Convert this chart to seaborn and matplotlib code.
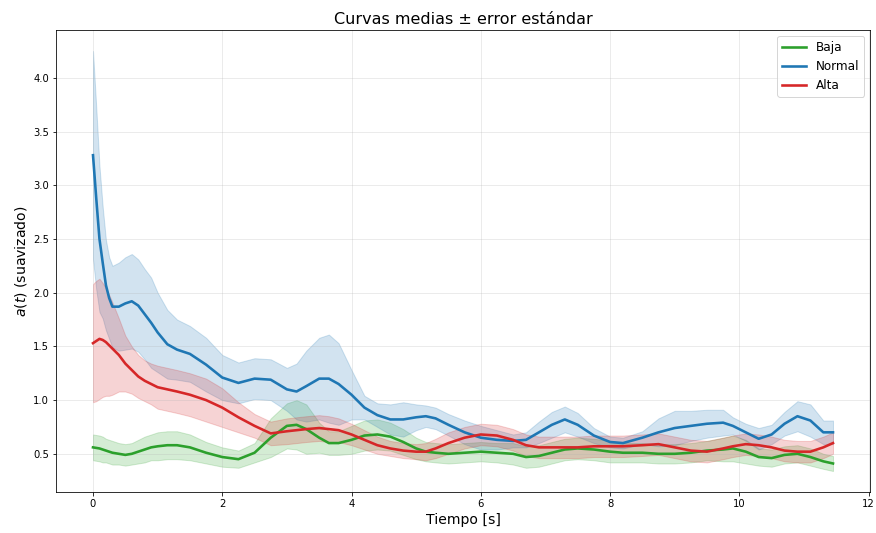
import matplotlib
matplotlib.use("Agg")
import matplotlib.pyplot as plt
import numpy as np
import pandas as pd
import seaborn as sns

# Time axis (s)
tiempo = [0, 0.05, 0.1, 0.15, 0.2, 0.25, 0.3, 0.4, 0.5, 0.6, 0.7, 0.8, 0.9, 1.0,
          1.15, 1.3, 1.5, 1.75, 2.0, 2.25, 2.5, 2.75, 3.0, 3.15, 3.3, 3.5, 3.65,
          3.8, 4.0, 4.2, 4.4, 4.6, 4.8, 5.0, 5.15, 5.3, 5.5, 5.75, 6.0, 6.25, 6.5,
          6.7, 6.9, 7.1, 7.3, 7.5, 7.75, 8.0, 8.2, 8.5, 8.75, 9.0, 9.25, 9.5,
          9.75, 9.9, 10.1, 10.3, 10.5, 10.7, 10.9, 11.1, 11.3, 11.45]

# Group "Baja"
media_baja = [0.56, 0.555, 0.55, 0.54, 0.53, 0.52, 0.51, 0.50, 0.49, 0.50, 0.52,
              0.54, 0.56, 0.57, 0.58, 0.58, 0.56, 0.51, 0.47, 0.45, 0.51, 0.65,
              0.76, 0.77, 0.73, 0.65, 0.60, 0.60, 0.63, 0.67, 0.68, 0.66, 0.61,
              0.55, 0.52, 0.51, 0.50, 0.51, 0.52, 0.51, 0.50, 0.47, 0.48, 0.51,
              0.54, 0.55, 0.54, 0.52, 0.51, 0.51, 0.50, 0.50, 0.51, 0.53, 0.54,
              0.55, 0.52, 0.47, 0.46, 0.49, 0.50, 0.47, 0.43, 0.41]
ee_baja = [0.12, 0.12, 0.12, 0.12, 0.11, 0.11, 0.11, 0.10, 0.10, 0.10, 0.11,
           0.12, 0.12, 0.13, 0.13, 0.13, 0.12, 0.10, 0.09, 0.08, 0.09, 0.18,
           0.21, 0.23, 0.23, 0.14, 0.11, 0.11, 0.13, 0.14, 0.14, 0.13, 0.12,
           0.10, 0.09, 0.09, 0.09, 0.09, 0.09, 0.09, 0.10, 0.10, 0.10, 0.10,
           0.10, 0.10, 0.10, 0.10, 0.09, 0.09, 0.09, 0.09, 0.09, 0.09, 0.11,
           0.12, 0.11, 0.08, 0.08, 0.08, 0.08, 0.08, 0.07, 0.07]

# Group "Normal"
media_normal = [3.28, 2.88, 2.50, 2.28, 2.07, 1.95, 1.87, 1.87, 1.90, 1.92, 1.88,
                1.80, 1.72, 1.63, 1.52, 1.47, 1.43, 1.33, 1.21, 1.16, 1.20, 1.19,
                1.10, 1.08, 1.13, 1.20, 1.20, 1.15, 1.05, 0.93, 0.86, 0.82, 0.82,
                0.84, 0.85, 0.83, 0.77, 0.70, 0.65, 0.63, 0.62, 0.63, 0.70, 0.77,
                0.82, 0.77, 0.67, 0.61, 0.60, 0.65, 0.70, 0.74, 0.76, 0.78, 0.79,
                0.76, 0.70, 0.64, 0.68, 0.78, 0.85, 0.81, 0.70, 0.70]
ee_normal = [0.97, 0.85, 0.68, 0.52, 0.42, 0.38, 0.38, 0.41, 0.43, 0.44, 0.43,
             0.42, 0.42, 0.37, 0.32, 0.28, 0.26, 0.25, 0.21, 0.19, 0.19, 0.19,
             0.20, 0.26, 0.33, 0.38, 0.41, 0.38, 0.23, 0.11, 0.11, 0.14, 0.16,
             0.12, 0.10, 0.10, 0.10, 0.11, 0.11, 0.09, 0.06, 0.07, 0.10, 0.12,
             0.12, 0.11, 0.07, 0.05, 0.05, 0.06, 0.13, 0.16, 0.14, 0.13, 0.12,
             0.08, 0.08, 0.10, 0.09, 0.11, 0.14, 0.15, 0.11, 0.11]

# Group "Alta"
media_alta = [1.53, 1.55, 1.57, 1.56, 1.54, 1.51, 1.48, 1.42, 1.34, 1.28, 1.22,
              1.18, 1.15, 1.12, 1.10, 1.08, 1.05, 1.00, 0.93, 0.84, 0.76, 0.69,
              0.71, 0.72, 0.73, 0.74, 0.73, 0.72, 0.68, 0.63, 0.58, 0.55, 0.53,
              0.52, 0.52, 0.55, 0.60, 0.65, 0.68, 0.67, 0.63, 0.58, 0.56, 0.56,
              0.56, 0.56, 0.57, 0.57, 0.57, 0.58, 0.59, 0.56, 0.53, 0.52, 0.55,
              0.57, 0.59, 0.58, 0.56, 0.53, 0.52, 0.52, 0.56, 0.60]
ee_alta = [0.55, 0.56, 0.56, 0.53, 0.50, 0.47, 0.43, 0.34, 0.26, 0.22, 0.20,
           0.19, 0.19, 0.20, 0.20, 0.20, 0.20, 0.20, 0.18, 0.14, 0.11, 0.11,
           0.12, 0.12, 0.12, 0.12, 0.12, 0.11, 0.10, 0.09, 0.08, 0.07, 0.07,
           0.07, 0.08, 0.09, 0.10, 0.10, 0.10, 0.10, 0.10, 0.10, 0.10, 0.10,
           0.10, 0.10, 0.10, 0.10, 0.10, 0.10, 0.10, 0.10, 0.10, 0.10, 0.10,
           0.10, 0.10, 0.10, 0.10, 0.10, 0.10, 0.10, 0.10, 0.10]

grupos = ["Baja", "Normal", "Alta"]
colores = {"Baja": "#2ca02c", "Normal": "#1f77b4", "Alta": "#d62728"}
medias = {"Baja": media_baja, "Normal": media_normal, "Alta": media_alta}
errores = {"Baja": ee_baja, "Normal": ee_normal, "Alta": ee_alta}

df = pd.concat(
    [pd.DataFrame({"t": tiempo, "media": medias[g], "ee": errores[g], "grupo": g})
     for g in grupos],
    ignore_index=True,
)

fig = plt.figure(figsize=(876 / 72, 533 / 72), dpi=72)
ax = fig.add_axes([56 / 876, 1 - 492 / 533, (870 - 56) / 876, (492 - 30) / 533])

for g in grupos:
    sub = df[df["grupo"] == g]
    ax.fill_between(sub["t"], sub["media"] - sub["ee"], sub["media"] + sub["ee"],
                    color=colores[g], alpha=0.2)
    sns.lineplot(data=sub, x="t", y="media", color=colores[g], linewidth=2.6,
                 label=g, ax=ax, errorbar=None)

ax.set_title("Curvas medias ± error estándar", fontsize=16)
ax.set_xlabel("Tiempo [s]", fontsize=14)
ax.set_ylabel("$a(t)$ (suavizado)", fontsize=14)
ax.set_xticks([0, 2, 4, 6, 8, 10, 12])
ax.set_yticks([0.5, 1.0, 1.5, 2.0, 2.5, 3.0, 3.5, 4.0])
ax.tick_params(labelsize=10)
ax.grid(True, alpha=0.3)
ax.legend(loc="upper right", fontsize=12)

fig.savefig("out.png", dpi=72)
